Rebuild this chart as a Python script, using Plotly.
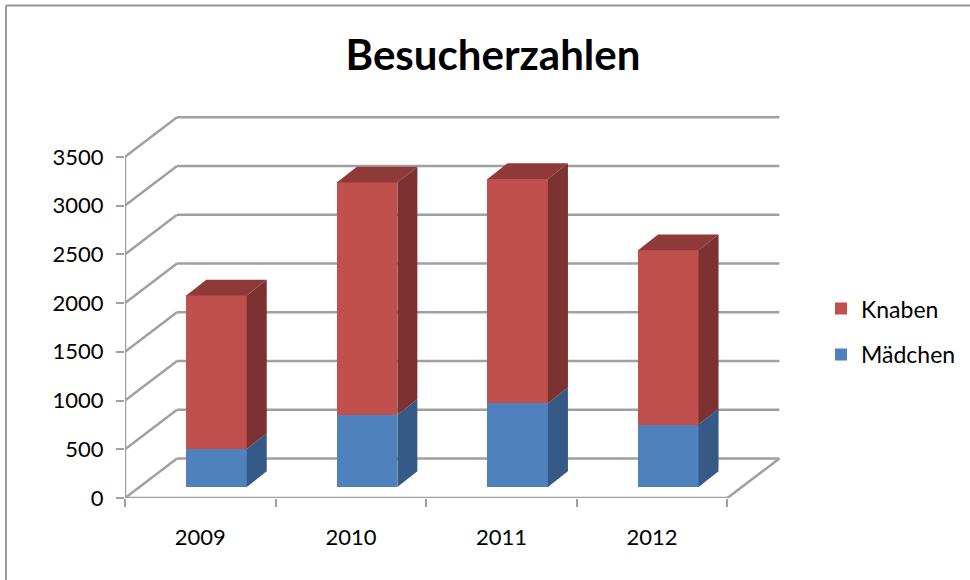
import plotly.graph_objects as go

years = ["2009", "2010", "2011", "2012"]
maedchen = [390, 740, 860, 640]
knaben = [1575, 2385, 2300, 1790]
y_ticks = [0, 500, 1000, 1500, 2000, 2500, 3000, 3500]
title_text = "Besucherzahlen"

W, H = 970, 580
L, R, T, B = 125, 781, 110, 497.7
PX_CAT, PX_500 = 150.6, 48.7
x_range = [-0.5, -0.5 + (R - L) / PX_CAT]
y_range = [0, (B - T) / PX_500 * 500]


def dxp(p):
    return p / PX_CAT


def dyp(p):
    return p / PX_500 * 500


WALL_DX, WALL_DY = dxp(52), dyp(39.5)
FRONT_DX, FRONT_DY = dxp(16.2), dyp(11)
DEPTH_DX, DEPTH_DY = dxp(20), dyp(15.7)
BAR_W = dxp(60.5)

GRID = "#a0a0a0"
RED, RED_TOP, RED_SIDE = "#c0504d", "#8f3a38", "#7b3230"
BLUE, BLUE_SIDE = "#4f81bd", "#355a88"
FONT = "Lato, 'Open Sans', sans-serif"

n = len(years)
xc = [i + FRONT_DX for i in range(n)]
x_end = n - 0.5

fig = go.Figure()

tops_blue = maedchen
tops_red = [a + b for a, b in zip(maedchen, knaben)]

# front faces
fig.add_trace(go.Bar(x=xc, y=maedchen, base=[FRONT_DY] * n, width=BAR_W, name="Mädchen",
                     marker=dict(color=BLUE, line_width=0), legendgroup="m", legendrank=2, hoverinfo="skip"))
fig.add_trace(go.Bar(x=xc, y=knaben, base=[FRONT_DY + v for v in maedchen], width=BAR_W, name="Knaben",
                     marker=dict(color=RED, line_width=0), legendgroup="k", legendrank=1, hoverinfo="skip"))


def poly(xs, ys, color):
    fig.add_trace(go.Scatter(x=xs, y=ys, mode="lines", fill="toself", fillcolor=color,
                             line=dict(width=0, color=color), showlegend=False, hoverinfo="skip"))


for i in range(n):
    xr = xc[i] + BAR_W / 2
    xl = xc[i] - BAR_W / 2
    b0 = FRONT_DY
    b1 = FRONT_DY + tops_blue[i]
    b2 = FRONT_DY + tops_red[i]
    poly([xr, xr + DEPTH_DX, xr + DEPTH_DX, xr, xr],
         [b0, b0 + DEPTH_DY, b1 + DEPTH_DY, b1, b0], BLUE_SIDE)
    poly([xr, xr + DEPTH_DX, xr + DEPTH_DX, xr, xr],
         [b1, b1 + DEPTH_DY, b2 + DEPTH_DY, b2, b1], RED_SIDE)
    poly([xl, xl + DEPTH_DX, xr + DEPTH_DX, xr, xl],
         [b2, b2 + DEPTH_DY, b2 + DEPTH_DY, b2, b2], RED_TOP)

# invisible trace that keeps the boundary-tick axis alive
fig.add_trace(go.Scatter(x=[None], y=[None], xaxis="x2", showlegend=False, hoverinfo="skip"))

shapes = []


def seg(x0, y0, x1, y1):
    shapes.append(dict(type="line", xref="x", yref="y", x0=x0, y0=y0, x1=x1, y1=y1,
                       layer="below", line=dict(color=GRID, width=2.5)))


for v in y_ticks:
    seg(-0.5, v, -0.5 + WALL_DX, v + WALL_DY)
    seg(-0.5 + WALL_DX, v + WALL_DY, x_end + WALL_DX, v + WALL_DY)
seg(-0.5, 0, -0.5, y_ticks[-1])
seg(-0.5, 0, x_end, 0)
seg(x_end, 0, x_end + WALL_DX, WALL_DY)

# outer frame, given in pixels and converted to paper fractions
fw, fh = R - L, B - T


def px(p):
    return (p - L) / fw


def py(p):
    return (B - p) / fh


shapes.append(dict(type="line", xref="paper", yref="paper", x0=px(6), x1=px(970), y0=py(5.5), y1=py(5.5),
                   layer="below", line=dict(color="#969696", width=2)))
shapes.append(dict(type="line", xref="paper", yref="paper", x0=px(6), x1=px(6), y0=py(5.5), y1=py(580),
                   layer="below", line=dict(color="#969696", width=2)))

fig.update_layout(
    width=W, height=H, paper_bgcolor="white", plot_bgcolor="rgba(0,0,0,0)",
    margin=dict(l=L, r=W - R, t=T, b=H - B, pad=0, autoexpand=False),
    barmode="overlay", bargap=0, showlegend=True, shapes=shapes,
    font=dict(family=FONT, color="#000000", size=22),
    title=dict(text=title_text, x=493 / W, y=1 - 55 / H, xref="container", yref="container", xanchor="center", yanchor="middle",
               font=dict(family=FONT, size=42, color="#000000", weight="bold")),
    xaxis=dict(range=x_range, tickmode="array", tickvals=list(range(n)), ticktext=years, ticks="",
               showgrid=False, zeroline=False, showline=False, ticklabelstandoff=24,
               tickfont=dict(size=22), fixedrange=True),
    xaxis2=dict(range=x_range, overlaying="x", anchor="y", side="bottom", tickmode="array",
                tickvals=[i - 0.5 for i in range(n + 1)], ticktext=[""] * (n + 1), ticks="outside",
                ticklen=8, tickwidth=2, tickcolor=GRID, showgrid=False, zeroline=False, showline=False),
    yaxis=dict(range=y_range, tickmode="array", tickvals=y_ticks, ticks="outside", ticklen=8, tickwidth=2,
               tickcolor=GRID, showgrid=False, zeroline=False, showline=False, ticklabelstandoff=8,
               tickfont=dict(size=22), fixedrange=True),
    legend=dict(x=(821 - L) / fw, y=(B - 287) / fh, xanchor="left", yanchor="top",
                tracegroupgap=13, itemsizing="constant",
                font=dict(size=23), bgcolor="rgba(0,0,0,0)", itemwidth=30),
)

fig.write_html("out.html", config=dict(displayModeBar=False),
               post_script="document.body.style.margin='0';document.body.style.overflow='hidden';window.dispatchEvent(new Event('resize'));")
